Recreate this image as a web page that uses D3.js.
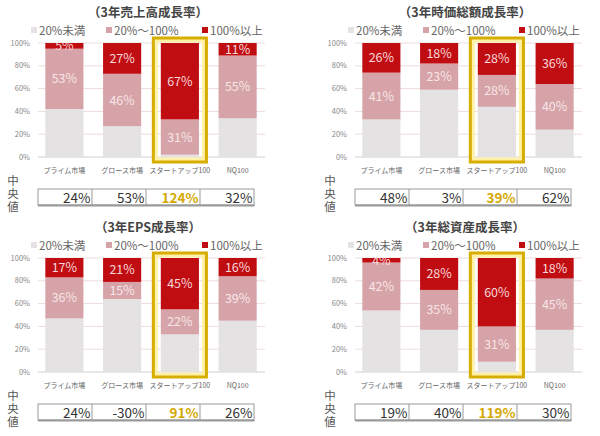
<!DOCTYPE html>
<html><head><meta charset="utf-8">
<script src="https://cdn.jsdelivr.net/npm/d3@7"></script>
<style>
html,body{margin:0;padding:0;background:#fff;}
svg{display:block;font-family:"Noto Sans CJK JP","Noto Sans",sans-serif;}
</style></head>
<body>
<svg id="c" width="600" height="436"></svg>
<script>
const categories = ["プライム市場","グロース市場","スタートアップ100","NQ100"];
const seriesNames = ["20%未満","20%～100%","100%以上"];
const titles = ["（3年売上高成長率）","（3年時価総額成長率）","（3年EPS成長率）","（3年総資産成長率）"];
// each panel: [under20, 20to100, over100] per category (percent)
const under20 = [[42,27,2,34],[33,59,44,24],[47,64,33,45],[54,37,9,37]];
const mid20to100 = [[53,46,31,55],[41,23,28,40],[36,15,22,39],[42,35,31,45]];
const over100 = [[5,27,67,11],[26,18,28,36],[17,21,45,16],[4,28,60,18]];
const medians = [["24%","53%","124%","32%"],["48%","3%","39%","62%"],["24%","-30%","91%","26%"],["19%","40%","119%","30%"]];
const yTicks = [0,20,40,60,80,100];
const highlightIndex = 2;
const medianLabel = "中央値";

const colors = ["#e4e2e3","#d6a3a8","#c00d12"];
const labelColors = [null,"#f6e6e7","#f7d7d9"];
const svg = d3.select("#c");
const offsets = [[0,0],[317,0],[0,215],[317,215]];

offsets.forEach(([ox,oy],p)=>{
  const g = svg.append("g").attr("transform",`translate(${ox},${oy})`);
  const rows = categories.map((c,i)=>({cat:c, a:under20[p][i], b:mid20to100[p][i], c:over100[p][i]}));
  const stack = d3.stack().keys(["a","b","c"])(rows);
  const x = d3.scaleBand().domain(categories).range([35.5,266.5]).paddingInner(0.34).paddingOuter(0.17);
  const y = d3.scaleLinear().domain([0,100]).range([157,43]);

  const clipId = "clip"+p;
  g.append("clipPath").attr("id",clipId).append("rect")
    .attr("x",30).attr("y",y(100)).attr("width",240).attr("height",y(0)-y(100));

  // title
  g.append("text").attr("x",148).attr("y",17).attr("text-anchor","middle")
    .attr("font-size",12.5).attr("font-weight","bold").attr("fill","#444").text(titles[p]);

  // legend
  const legX = [31,106,202];
  seriesNames.forEach((s,i)=>{
    g.append("rect").attr("x",legX[i]).attr("y",27).attr("width",6).attr("height",6).attr("fill",colors[i]);
    g.append("text").attr("x",legX[i]+8).attr("y",34.5).attr("font-size",11.5).attr("fill","#666").text(s);
  });

  // grid
  g.selectAll(".grid").data(yTicks).join("line")
    .attr("x1",38).attr("x2",265).attr("y1",d=>y(d)).attr("y2",d=>y(d))
    .attr("stroke",d=>d===0?"#d0d0d0":"#eddcdc").attr("stroke-width",1);
  g.selectAll(".yt").data(yTicks).join("text")
    .attr("x",30).attr("y",d=>y(d)+2.5).attr("text-anchor","end")
    .attr("font-size",7.5).attr("fill","#888").text(d=>d+"%");

  // bars
  stack.forEach((layer,li)=>{
    g.append("g").selectAll("rect").data(layer).join("rect")
      .attr("x",d=>x(d.data.cat)).attr("width",x.bandwidth())
      .attr("y",d=>y(d[1])).attr("height",d=>y(d[0])-y(d[1]))
      .attr("fill",colors[li]);
  });
  stack.forEach((layer,li)=>{
    if(li>0){
      g.append("g").attr("clip-path",`url(#${clipId})`).selectAll("text").data(layer).join("text")
        .attr("x",d=>x(d.data.cat)+x.bandwidth()/2)
        .attr("y",d=>y((d[0]+d[1])/2)+4.5)
        .attr("text-anchor","middle").attr("font-size",12.5)
        .attr("fill",labelColors[li]).text(d=>(d[1]-d[0])+"%");
    }
  });

  // highlight box
  const hx = x(categories[highlightIndex]);
  g.append("rect").attr("x",hx-5.5).attr("y",40).attr("width",x.bandwidth()+11).attr("height",120)
    .attr("fill","none").attr("stroke","#fff1a8").attr("stroke-width",5);
  g.append("rect").attr("x",hx-7.5).attr("y",38).attr("width",x.bandwidth()+15).attr("height",124)
    .attr("fill","none").attr("stroke","#d6ad00").attr("stroke-width",3);

  // category labels
  g.selectAll(".cl").data(categories).join("text")
    .attr("x",d=>x(d)+x.bandwidth()/2).attr("y",173).attr("text-anchor","middle")
    .attr("font-size",7).attr("fill","#666").text(d=>d);

  // 中央値 (vertical)
  g.append("text").attr("x",13).attr("y",175)
    .attr("writing-mode","tb").style("writing-mode","vertical-rl")
    .attr("letter-spacing",1.5)
    .attr("font-size",11.5).attr("fill","#555").text(medianLabel);

  // table
  const tx0=38, tx1=254, ty0=189, ty1=205;
  const cx = d3.scaleBand().domain(categories).range([tx0,tx1]);
  g.append("rect").attr("x",tx0).attr("y",ty0).attr("width",tx1-tx0).attr("height",ty1-ty0)
    .attr("fill","#fff").attr("stroke","#9a9a9a").attr("stroke-width",1);
  g.append("line").attr("x1",tx0).attr("x2",tx1+0.5).attr("y1",ty1+0.5).attr("y2",ty1+0.5)
    .attr("stroke","#999").attr("stroke-width",2);
  categories.slice(1).forEach(c=>{
    g.append("line").attr("x1",cx(c)).attr("x2",cx(c)).attr("y1",ty0).attr("y2",ty1)
      .attr("stroke","#9a9a9a").attr("stroke-width",1);
  });
  g.selectAll(".mv").data(medians[p]).join("text")
    .attr("x",(d,i)=>cx(categories[i])+cx.bandwidth()-1.5).attr("y",ty1-2.5)
    .attr("text-anchor","end").attr("font-size",13.5)
    .attr("font-weight",(d,i)=>i===highlightIndex?"bold":"normal")
    .attr("fill",(d,i)=>i===highlightIndex?"#d4a800":"#333").text(d=>d);
});
</script>
</body></html>
